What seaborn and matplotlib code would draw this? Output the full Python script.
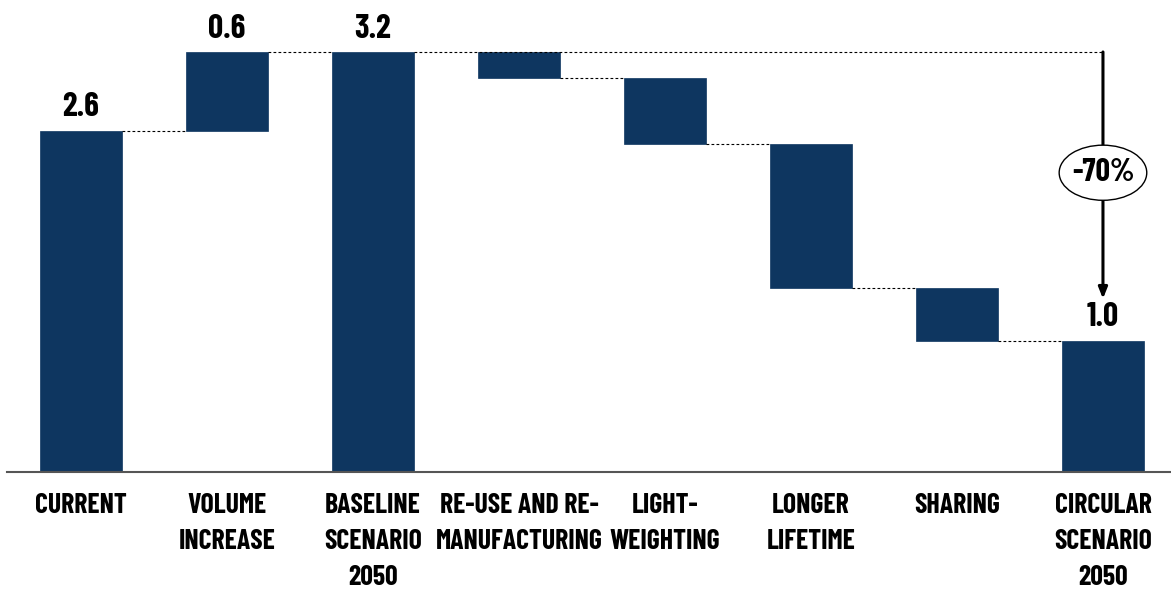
import matplotlib
matplotlib.use("Agg")
import matplotlib.pyplot as plt
from matplotlib import font_manager
from matplotlib.patches import Ellipse
import numpy as np
import pandas as pd
import seaborn as sns

categories = ["CURRENT", "VOLUME\nINCREASE", "BASELINE\nSCENARIO\n2050", "RE-USE AND RE-\nMANUFACTURING",
              "LIGHT-\nWEIGHTING", "LONGER\nLIFETIME", "SHARING", "CIRCULAR\nSCENARIO\n2050"]
steps = [2.6, 0.6, 3.2, -0.2, -0.5, -1.1, -0.4, 1.0]
is_total = [True, False, True, False, False, False, False, True]
value_labels = ["2.6", "0.6", "3.2", "", "", "", "", "1.0"]
change_label = "-70%"

sns.set_theme(style="white")
installed = {f.name for f in font_manager.fontManager.ttflist}
fam = next((f for f in ["Barlow Condensed", "Bebas Neue", "Oswald", "Roboto Condensed",
                        "Saira Condensed", "DejaVu Sans"] if f in installed), "DejaVu Sans")
plt.rcParams["font.family"] = [fam, "DejaVu Sans"]

# running levels for the waterfall
bottoms, tops, levels = [], [], []
level = 0.0
for s, tot in zip(steps, is_total):
    new = s if tot else level + s
    if tot:
        b, t = 0.0, s
    else:
        b, t = min(level, new), max(level, new)
    level = new
    bottoms.append(b)
    tops.append(t)
    levels.append(level)
heights = [t - b for b, t in zip(bottoms, tops)]

df = pd.DataFrame({"category": categories, "height": heights, "bottom": bottoms})

fig = plt.figure(figsize=(11.71, 5.89), dpi=100)
ax = fig.add_axes([7 / 1171, 1 - 472 / 589, 1 - 7 / 1171, 472 / 589])

navy = "#0E3660"
width = 0.56
sns.barplot(data=df, x="category", y="height", bottom=df["bottom"].values, color=navy,
            saturation=1, width=width, ax=ax, edgecolor=navy, linewidth=0.5)

ax.set_xlim(-0.507, 7.466)
ax.set_ylim(0, 3.596)

# connectors between consecutive bars
half = width / 2
for i in range(len(categories) - 1):
    x0 = i + half
    x1 = 7 if i == 2 else i + 1 - half
    ax.plot([x0, x1], [levels[i], levels[i]], color="black", lw=0.8,
            ls=(0, (2.5, 2)), zorder=1)

# value labels
for i, lab in enumerate(value_labels):
    if lab:
        ax.annotate(lab, xy=(i, tops[i]), xytext=(0, 6), textcoords="offset points",
                    ha="center", va="bottom", fontsize=24, fontweight="bold", color="black")

# overall change arrow with the ellipse badge
last = len(categories) - 1
ax.annotate("", xy=(last, 1.32), xytext=(last, levels[2]),
            arrowprops=dict(arrowstyle="-|>,head_length=0.55,head_width=0.22", color="black",
                            lw=2.2, shrinkA=0, shrinkB=0), zorder=3)
badge_y = 2.28
ax.add_patch(Ellipse((last, badge_y), width=0.60, height=0.42, fc="white", ec="black",
                     lw=1, zorder=4))
ax.text(last, badge_y, change_label, ha="center", va="center", fontsize=23, fontweight="bold",
        color="black", zorder=5)

ax.set_xlabel("")
ax.set_ylabel("")
ax.set_yticks([])
ax.tick_params(axis="x", length=0, pad=15)
for lbl in ax.get_xticklabels():
    lbl.set_fontsize(20)
    lbl.set_fontweight("bold")
    lbl.set_linespacing(1.56)
    lbl.set_color("black")
for side in ["left", "right", "top"]:
    ax.spines[side].set_visible(False)
ax.spines["bottom"].set_color("#555555")
ax.spines["bottom"].set_linewidth(1.5)

fig.savefig("out.png", dpi=100)
